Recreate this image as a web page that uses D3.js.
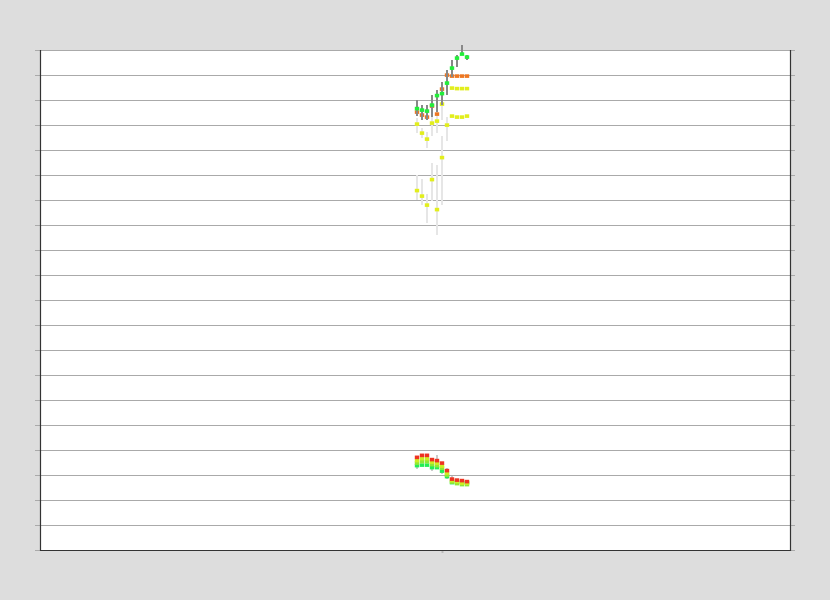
<!DOCTYPE html>
<html><head><meta charset="utf-8">
<script src="https://cdn.jsdelivr.net/npm/d3@7"></script>
<style>html,body{margin:0;padding:0;background:#dddddd;}svg{display:block;}</style>
</head><body>
<script>
// categories (x positions, index units)
const categories = [75.4,76.4,77.4,78.4,79.4,80.4,81.4,82.4,83.4,84.4,85.4];
const tickCategory = [80.4];
const yTicks = d3.range(0, 201, 10);

// upper group
const greenVals  = [176.6,176,175.6,178,181.8,182.6,186.8,192.8,196.8,198.4,197.2];
const greenHigh  = [180,178,178,182,184,187.2,192,196,198,202,198];
const greenLow   = [173.6,172,172,173.2,175.2,178,182,189.2,193.2,198,196];
const orangeVals = [175.2,174,173.2,177.6,174.4,184.4,190,189.6,189.6,189.6,189.6];
const yellowVals = [170.4,166.8,164.4,170.8,171.6,178.4,170,173.6,173.2,173.2,173.6];
const yellowHigh = [172.8,168.8,167.2,176,179.2,181.6,173.2,null,null,null,null];
const yellowLow  = [166.8,164.8,160.8,165.6,166.8,172,163.6,null,null,null,null];
const yellow2Vals= [null,null,null,null,null,null,null,184.8,184.6,184.6,184.6];
const yellow3Vals= [143.8,141.6,138,148.2,136.2,157,null,null,null,null,null];
const yellow3High= [150,148.4,142.4,154.8,154,165.6,null,null,null,null,null];
const yellow3Low = [140,138,130.8,139.6,126,138,null,null,null,null,null];

// lower group
const lowRangeHigh=[34.4,null,null,35.6,38,35.2,32.8,29.6,null,null,null];
const lowRangeLow =[32.4,null,null,31.6,34,30.4,28.4,27.2,null,null,null];
const redVals    = [37.1,37.9,37.9,36.2,35.8,34.8,31.8,28.4,28,27.8,27.4];
const yellowLVals= [35.8,36.6,36.6,35.2,34.8,33.6,30.8,27.8,27.4,26.8,26.8];
const limeVals   = [34.8,35.4,35.4,34.2,33.8,32.8,30,27.2,26.6,26.2,26.2];
const greenLVals = [33.8,34,34,33,33,31.6,29.4,27,27,27.2,27];

const W=830,H=600,L=40,R=790,T=50,B=550;
const svg=d3.select("body").append("svg").attr("width",W).attr("height",H);
svg.append("rect").attr("x",L).attr("y",T).attr("width",R-L).attr("height",B-T).attr("fill","#fff");

const x=d3.scaleLinear().domain([0,150]).range([L,R]);
const y=d3.scaleLinear().domain([0,200]).range([B,T]);

// gridlines
const gy=svg.append("g").attr("transform",`translate(${L-5},0)`)
  .call(d3.axisLeft(y).tickValues(yTicks).tickSize(-(R-L+10)).tickFormat(""));
gy.select(".domain").remove();
gy.selectAll("line").attr("stroke","#aaaaaa").attr("shape-rendering","crispEdges");

const gx=svg.append("g").attr("transform",`translate(0,${B})`)
  .call(d3.axisBottom(x).tickValues(tickCategory).tickSize(3).tickFormat(""));
gx.select(".domain").remove();
gx.selectAll("line").attr("stroke","#bbbbbb").attr("stroke-width",2);

// borders
const border=svg.append("g").attr("stroke","#333").attr("stroke-width",1.2).attr("fill","none");
border.append("path").attr("d",`M${L+0.5},${T}V${B+0.5}H${R+0.5}V${T}`);

function ranges(hi,lo,color,w){
  const d=categories.map((c,i)=>({c,h:hi[i],l:lo[i]})).filter(o=>o.h!=null);
  svg.append("g").selectAll("line").data(d).join("line")
    .attr("x1",o=>x(o.c)).attr("x2",o=>x(o.c))
    .attr("y1",o=>y(o.h)).attr("y2",o=>y(o.l))
    .attr("stroke",color).attr("stroke-width",w);
}
function markers(vals,color){
  const d=categories.map((c,i)=>({c,v:vals[i]})).filter(o=>o.v!=null);
  svg.append("g").selectAll("rect").data(d).join("rect")
    .attr("x",o=>x(o.c)-2.2).attr("y",o=>y(o.v)-1.7)
    .attr("width",4.4).attr("height",3.6).attr("fill",color);
}

ranges(yellow3High,yellow3Low,"#e6e6e6",2);
ranges(yellowHigh,yellowLow,"#e6e6e6",2);
markers(yellow3Vals,"#e2ee1c");
markers(yellowVals,"#e2ee1c");
markers(yellow2Vals,"#e2ee1c");
markers(orangeVals,"#ee7722");
ranges(greenHigh,greenLow,"#888888",2);
markers(greenVals,"#22ee3a");

ranges(lowRangeHigh,lowRangeLow,"#cccccc",2);
markers(greenLVals,"#22ee55");
markers(limeVals,"#8ee835");
markers(yellowLVals,"#ccee22");
markers(redVals,"#ee3322");
</script>
</body></html>
